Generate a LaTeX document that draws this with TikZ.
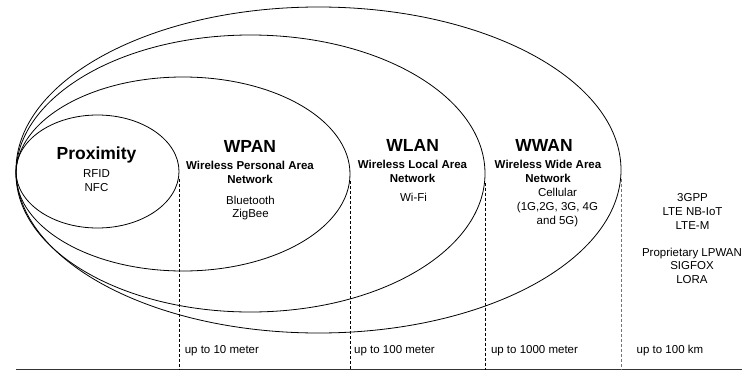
\documentclass[tikz,border=0pt]{standalone}
\usepackage{fontspec}
\setmainfont{Liberation Sans}
\usetikzlibrary{shapes.geometric}
\begin{document}
\begin{tikzpicture}[x=1pt,y=-1pt,
  ring/.style={draw=black,ellipse,line width=0.8pt,inner sep=0pt},
  ttl/.style={font={\fontsize{17.5}{20}\selectfont\bfseries},anchor=base,inner sep=0pt},
  sub/.style={font={\fontsize{11.5}{14.2}\selectfont\bfseries},anchor=base,align=center,inner sep=0pt},
  itm/.style={font={\fontsize{11.5}{13.7}\selectfont},anchor=base,align=center,inner sep=0pt},
  rng/.style={font={\fontsize{11.5}{14}\selectfont},anchor=base west,inner sep=0pt},
  drop/.style={dashed,dash pattern=on 3pt off 2pt,line width=0.8pt},
  axis/.style={line width=1.5pt,draw=black!80}]
\useasboundingbox (0,0) rectangle (742,372);
% ellipses
\node[ring,minimum width=605pt,minimum height=326pt] (wwan) at (318.5,170) {};
\node[ring,minimum width=469pt,minimum height=277pt] (wlan) at (250.5,173.5) {};
\node[ring,minimum width=334pt,minimum height=194pt] (wpan) at (183,174) {};
\node[ring,minimum width=163pt,minimum height=113pt] (prox) at (97.5,171.5) {};
% axis
\coordinate (axL) at (16,369.5);
\coordinate (axR) at (742,369.5);
\draw[axis] (axL) -- (axR);
% dashed drops
\draw[drop] ([yshift=-7pt]prox.east) -- (prox.east |- axL);
\draw[drop] ([yshift=-7pt]wpan.east) -- (wpan.east |- axL);
\draw[drop] ([yshift=-9pt]wlan.east) -- (wlan.east |- axL);
\draw[drop,draw=black!55] ([yshift=-9pt]wwan.east) -- (wwan.east |- axL);
% texts (multi-line nodes are placed by the baseline of their last line)
\node[ttl] (proxT) at (96.5,159.3) {Proximity};
\node[itm] (proxI) at (96.5,191.5) {RFID\\NFC};
\node[ttl] (wpanT) at (250,152.3) {WPAN};
\node[sub] (wpanS) at (250,183.3) {Wireless Personal Area\\Network};
\node[itm] (wpanI) at (250.5,217.7) {Bluetooth\\ZigBee};
\node[ttl] (wlanT) at (412.7,151.7) {WLAN};
\node[sub] (wlanS) at (412.5,182.5) {Wireless Local Area\\Network};
\node[itm] (wlanI) at (413.5,201.7) {Wi-Fi};
\node[ttl] (wwanT) at (544,151.7) {WWAN};
\node[sub] (wwanS) at (548,182.5) {Wireless Wide Area\\Network};
\node[itm] (wwanI) at (557.5,224.3) {Cellular\\(1G,2G, 3G, 4G\\and 5G)};
\node[itm] (lpwA) at (692.5,229.3) {3GPP\\LTE NB-IoT\\LTE-M};
\node[itm] (lpwB) at (692,283.5) {Proprietary LPWAN\\SIGFOX\\LORA};
\node[rng] (r1) at (184.6,353.3) {up to 10 meter};
\node[rng] (r2) at (354,353.3) {up to 100 meter};
\node[rng] (r3) at (490.8,353.3) {up to 1000 meter};
\node[rng] (r4) at (636.5,353.3) {up to 100 km};
\end{tikzpicture}
\end{document}
